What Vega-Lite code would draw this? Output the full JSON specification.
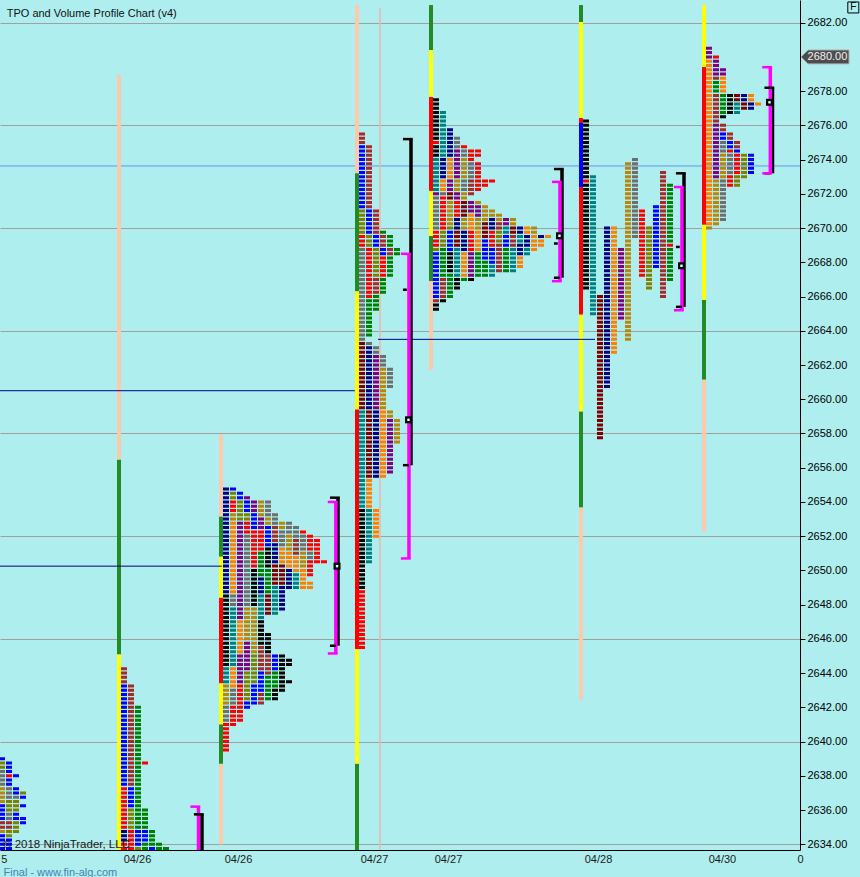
{
"$schema": "https://vega.github.io/schema/vega-lite/v6.json",
"width": 800,
"height": 850,
"autosize": {"type": "none"},
"padding": {"left": 0, "top": 0, "right": 60, "bottom": 27},
"background": "#AFEEEE",
"config": {"view": {"stroke": null}, "font": "Liberation Sans", "legend": {"disable": true}},
"datasets": {
"sessions": [
{"p":"a","s":0.286},{"p":"b","s":17.714},{"p":"c","s":32.286},{"p":"d","s":51.714},{"p":"e","s":62.286},{"p":"f","s":83.714},{"p":"g","s":101.286}
],
"cells": [
{"p":"a","c":0,"lo":2639,"hi":2639,"k":"B"},{"p":"a","c":0,"lo":2638.5,"hi":2638.75,"k":"O"},{"p":"a","c":0,"lo":2637.5,"hi":2638.25,"k":"Y"},{"p":"a","c":0,"lo":2636.5,"hi":2637.25,"k":"D"},{"p":"a","c":0,"lo":2635.5,"hi":2636.25,"k":"B"},{"p":"a","c":0,"lo":2635,"hi":2635.25,"k":"W"},{"p":"a","c":0,"lo":2634.75,"hi":2634.75,"k":"D"},{"p":"a","c":0,"lo":2633.5,"hi":2634.5,"k":"B"},
{"p":"a","c":1,"lo":2638.25,"hi":2638.75,"k":"B"},{"p":"a","c":1,"lo":2638,"hi":2638,"k":"R"},{"p":"a","c":1,"lo":2637.5,"hi":2637.75,"k":"B"},{"p":"a","c":1,"lo":2636.75,"hi":2637.25,"k":"Y"},{"p":"a","c":1,"lo":2636,"hi":2636.5,"k":"O"},{"p":"a","c":1,"lo":2635.5,"hi":2635.75,"k":"Y"},{"p":"a","c":1,"lo":2635,"hi":2635.25,"k":"W"},{"p":"a","c":1,"lo":2634.5,"hi":2634.75,"k":"O"},{"p":"a","c":1,"lo":2633.5,"hi":2634.25,"k":"B"},
{"p":"a","c":2,"lo":2638,"hi":2638,"k":"B"},{"p":"a","c":2,"lo":2637,"hi":2637.25,"k":"B"},{"p":"a","c":2,"lo":2636.75,"hi":2636.75,"k":"Y"},{"p":"a","c":2,"lo":2636,"hi":2636.5,"k":"O"},{"p":"a","c":2,"lo":2635.5,"hi":2635.75,"k":"B"},{"p":"a","c":2,"lo":2634.75,"hi":2635.25,"k":"O"},
{"p":"a","c":3,"lo":2637,"hi":2637,"k":"O"},{"p":"a","c":3,"lo":2636.75,"hi":2636.75,"k":"B"},{"p":"a","c":3,"lo":2636.25,"hi":2636.25,"k":"B"},{"p":"a","c":3,"lo":2635.25,"hi":2635.5,"k":"B"},

{"p":"b","c":0,"lo":2643.5,"hi":2644.25,"k":"W"},{"p":"b","c":0,"lo":2637.5,"hi":2643.25,"k":"B"},{"p":"b","c":0,"lo":2635,"hi":2637.25,"k":"R"},{"p":"b","c":0,"lo":2634.25,"hi":2634.75,"k":"N"},{"p":"b","c":0,"lo":2633.5,"hi":2634,"k":"R"},
{"p":"b","c":1,"lo":2637.5,"hi":2643.25,"k":"W"},{"p":"b","c":1,"lo":2636.25,"hi":2637.25,"k":"B"},{"p":"b","c":1,"lo":2635,"hi":2636,"k":"O"},{"p":"b","c":1,"lo":2633.5,"hi":2634.75,"k":"R"},
{"p":"b","c":2,"lo":2635,"hi":2642,"k":"G"},{"p":"b","c":2,"lo":2634,"hi":2634.75,"k":"B"},{"p":"b","c":2,"lo":2633.5,"hi":2633.75,"k":"O"},
{"p":"b","c":3,"lo":2638.75,"hi":2638.75,"k":"R"},{"p":"b","c":3,"lo":2635,"hi":2636,"k":"G"},{"p":"b","c":3,"lo":2634.25,"hi":2634.75,"k":"B"},{"p":"b","c":3,"lo":2633.5,"hi":2634,"k":"G"},
{"p":"b","c":4,"lo":2634,"hi":2634.75,"k":"G"},{"p":"b","c":4,"lo":2633.5,"hi":2633.75,"k":"B"},
{"p":"b","c":5,"lo":2633.5,"hi":2634,"k":"G"},{"p":"b","c":6,"lo":2633.5,"hi":2633.75,"k":"G"},

{"p":"c","c":0,"lo":2648.75,"hi":2654.75,"k":"N"},{"p":"c","c":0,"lo":2644.5,"hi":2648.5,"k":"K"},{"p":"c","c":0,"lo":2643.5,"hi":2644.25,"k":"T"},{"p":"c","c":0,"lo":2642.25,"hi":2643.25,"k":"D"},{"p":"c","c":0,"lo":2641.25,"hi":2642,"k":"Y"},{"p":"c","c":0,"lo":2639.5,"hi":2641,"k":"R"},
{"p":"c","c":1,"lo":2654.75,"hi":2654.75,"k":"B"},{"p":"c","c":1,"lo":2654.25,"hi":2654.5,"k":"O"},{"p":"c","c":1,"lo":2653.5,"hi":2654,"k":"R"},{"p":"c","c":1,"lo":2653,"hi":2653.25,"k":"D"},{"p":"c","c":1,"lo":2648.75,"hi":2652.75,"k":"A"},{"p":"c","c":1,"lo":2648,"hi":2648.5,"k":"Y"},{"p":"c","c":1,"lo":2644.5,"hi":2647.75,"k":"T"},{"p":"c","c":1,"lo":2643.25,"hi":2644.25,"k":"A"},{"p":"c","c":1,"lo":2642.25,"hi":2643,"k":"Y"},{"p":"c","c":1,"lo":2641,"hi":2642,"k":"R"},
{"p":"c","c":2,"lo":2654.25,"hi":2654.5,"k":"B"},{"p":"c","c":2,"lo":2653,"hi":2654,"k":"O"},{"p":"c","c":2,"lo":2647.25,"hi":2652.75,"k":"P"},{"p":"c","c":2,"lo":2645.25,"hi":2647,"k":"A"},{"p":"c","c":2,"lo":2643.5,"hi":2645,"k":"P"},{"p":"c","c":2,"lo":2641.25,"hi":2643.25,"k":"R"},
{"p":"c","c":3,"lo":2654.25,"hi":2654.25,"k":"P"},{"p":"c","c":3,"lo":2653.5,"hi":2654,"k":"B"},{"p":"c","c":3,"lo":2653,"hi":2653.25,"k":"O"},{"p":"c","c":3,"lo":2652.25,"hi":2652.75,"k":"R"},{"p":"c","c":3,"lo":2648,"hi":2652,"k":"Y"},{"p":"c","c":3,"lo":2646,"hi":2647.75,"k":"D"},{"p":"c","c":3,"lo":2644.25,"hi":2645.75,"k":"P"},{"p":"c","c":3,"lo":2642.5,"hi":2644,"k":"O"},{"p":"c","c":3,"lo":2642,"hi":2642.25,"k":"B"},
{"p":"c","c":4,"lo":2653.5,"hi":2654,"k":"P"},{"p":"c","c":4,"lo":2652.5,"hi":2653.25,"k":"B"},{"p":"c","c":4,"lo":2650.25,"hi":2652.25,"k":"R"},{"p":"c","c":4,"lo":2648,"hi":2650,"k":"K"},{"p":"c","c":4,"lo":2645.25,"hi":2647.75,"k":"D"},{"p":"c","c":4,"lo":2643.5,"hi":2645,"k":"O"},{"p":"c","c":4,"lo":2642.25,"hi":2643.25,"k":"B"},
{"p":"c","c":5,"lo":2653.25,"hi":2654,"k":"D"},{"p":"c","c":5,"lo":2652.5,"hi":2653,"k":"P"},{"p":"c","c":5,"lo":2651.25,"hi":2652.25,"k":"R"},{"p":"c","c":5,"lo":2649.75,"hi":2651,"k":"G"},{"p":"c","c":5,"lo":2648.75,"hi":2649.5,"k":"N"},{"p":"c","c":5,"lo":2647.25,"hi":2648.5,"k":"T"},{"p":"c","c":5,"lo":2645.75,"hi":2647,"k":"K"},{"p":"c","c":5,"lo":2644.25,"hi":2645.5,"k":"W"},{"p":"c","c":5,"lo":2643,"hi":2644,"k":"B"},{"p":"c","c":5,"lo":2642.25,"hi":2642.75,"k":"W"},
{"p":"c","c":6,"lo":2653.25,"hi":2654,"k":"Y"},{"p":"c","c":6,"lo":2652.75,"hi":2653,"k":"D"},{"p":"c","c":6,"lo":2651.5,"hi":2652.5,"k":"B"},{"p":"c","c":6,"lo":2650.25,"hi":2651.25,"k":"K"},{"p":"c","c":6,"lo":2648.75,"hi":2650,"k":"G"},{"p":"c","c":6,"lo":2647.5,"hi":2648.5,"k":"M"},{"p":"c","c":6,"lo":2645.25,"hi":2646.25,"k":"K"},{"p":"c","c":6,"lo":2644,"hi":2645,"k":"W"},{"p":"c","c":6,"lo":2642.5,"hi":2643.75,"k":"G"},
{"p":"c","c":7,"lo":2652.75,"hi":2653.25,"k":"Y"},{"p":"c","c":7,"lo":2651.75,"hi":2652.5,"k":"W"},{"p":"c","c":7,"lo":2650.5,"hi":2651.5,"k":"N"},{"p":"c","c":7,"lo":2649.25,"hi":2650.25,"k":"M"},{"p":"c","c":7,"lo":2647.5,"hi":2649,"k":"T"},{"p":"c","c":7,"lo":2644.25,"hi":2645,"k":"B"},{"p":"c","c":7,"lo":2643.25,"hi":2644,"k":"G"},{"p":"c","c":7,"lo":2642.5,"hi":2643,"k":"K"},
{"p":"c","c":8,"lo":2652.5,"hi":2652.75,"k":"D"},{"p":"c","c":8,"lo":2651.5,"hi":2652.25,"k":"Y"},{"p":"c","c":8,"lo":2650.5,"hi":2651.25,"k":"A"},{"p":"c","c":8,"lo":2649.25,"hi":2650.25,"k":"M"},{"p":"c","c":8,"lo":2647.75,"hi":2649,"k":"N"},{"p":"c","c":8,"lo":2643,"hi":2645,"k":"K"},
{"p":"c","c":9,"lo":2652.25,"hi":2652.75,"k":"Y"},{"p":"c","c":9,"lo":2651.25,"hi":2652,"k":"D"},{"p":"c","c":9,"lo":2650.25,"hi":2651,"k":"A"},{"p":"c","c":9,"lo":2649,"hi":2650,"k":"N"},{"p":"c","c":9,"lo":2644.5,"hi":2644.75,"k":"K"},{"p":"c","c":9,"lo":2643.5,"hi":2643.5,"k":"K"},
{"p":"c","c":10,"lo":2652,"hi":2652.5,"k":"Y"},{"p":"c","c":10,"lo":2651,"hi":2651.75,"k":"W"},{"p":"c","c":10,"lo":2650,"hi":2650.75,"k":"A"},{"p":"c","c":10,"lo":2649,"hi":2649.75,"k":"T"},
{"p":"c","c":11,"lo":2652.25,"hi":2652.25,"k":"R"},{"p":"c","c":11,"lo":2651.25,"hi":2652,"k":"Y"},{"p":"c","c":11,"lo":2650.25,"hi":2651,"k":"D"},{"p":"c","c":11,"lo":2649,"hi":2650,"k":"A"},
{"p":"c","c":12,"lo":2651.25,"hi":2652,"k":"R"},{"p":"c","c":12,"lo":2650.75,"hi":2651,"k":"Y"},{"p":"c","c":12,"lo":2649.75,"hi":2650.5,"k":"R"},{"p":"c","c":12,"lo":2649,"hi":2649.25,"k":"A"},
{"p":"c","c":13,"lo":2650.5,"hi":2651.75,"k":"R"},{"p":"c","c":14,"lo":2650.5,"hi":2650.5,"k":"R"},

{"p":"d","c":0,"lo":2675,"hi":2675.5,"k":"W"},{"p":"d","c":0,"lo":2671.25,"hi":2674.75,"k":"B"},{"p":"d","c":0,"lo":2669.75,"hi":2671,"k":"O"},{"p":"d","c":0,"lo":2669,"hi":2669.5,"k":"R"},{"p":"d","c":0,"lo":2663.5,"hi":2668.75,"k":"Y"},{"p":"d","c":0,"lo":2659.5,"hi":2663.25,"k":"M"},{"p":"d","c":0,"lo":2653.75,"hi":2659.25,"k":"T"},{"p":"d","c":0,"lo":2649,"hi":2653.5,"k":"K"},{"p":"d","c":0,"lo":2645.5,"hi":2648.75,"k":"R"},
{"p":"d","c":1,"lo":2671.25,"hi":2674.75,"k":"W"},{"p":"d","c":1,"lo":2669.75,"hi":2671,"k":"B"},{"p":"d","c":1,"lo":2669,"hi":2669.5,"k":"O"},{"p":"d","c":1,"lo":2666,"hi":2668.75,"k":"R"},{"p":"d","c":1,"lo":2663.75,"hi":2665.75,"k":"G"},{"p":"d","c":1,"lo":2663.25,"hi":2663.25,"k":"Y"},{"p":"d","c":1,"lo":2659.5,"hi":2663,"k":"N"},{"p":"d","c":1,"lo":2655.5,"hi":2659.25,"k":"M"},{"p":"d","c":1,"lo":2653.75,"hi":2655.25,"k":"A"},{"p":"d","c":1,"lo":2650.5,"hi":2653.5,"k":"T"},
{"p":"d","c":2,"lo":2669.75,"hi":2671,"k":"W"},{"p":"d","c":2,"lo":2669,"hi":2669.5,"k":"B"},{"p":"d","c":2,"lo":2667.25,"hi":2668.75,"k":"O"},{"p":"d","c":2,"lo":2666.25,"hi":2667,"k":"W"},{"p":"d","c":2,"lo":2665.25,"hi":2666,"k":"G"},{"p":"d","c":2,"lo":2662.75,"hi":2663,"k":"Y"},{"p":"d","c":2,"lo":2659.5,"hi":2662.5,"k":"P"},{"p":"d","c":2,"lo":2655.5,"hi":2659.25,"k":"N"},{"p":"d","c":2,"lo":2652,"hi":2653.5,"k":"A"},
{"p":"d","c":3,"lo":2669.75,"hi":2669.75,"k":"G"},{"p":"d","c":3,"lo":2669,"hi":2669.5,"k":"W"},{"p":"d","c":3,"lo":2668.5,"hi":2668.75,"k":"B"},{"p":"d","c":3,"lo":2667.25,"hi":2668.25,"k":"R"},{"p":"d","c":3,"lo":2666.25,"hi":2667,"k":"G"},{"p":"d","c":3,"lo":2662,"hi":2662.5,"k":"Y"},{"p":"d","c":3,"lo":2659.5,"hi":2661.75,"k":"D"},{"p":"d","c":3,"lo":2655.5,"hi":2659.25,"k":"A"},
{"p":"d","c":4,"lo":2669,"hi":2669.5,"k":"G"},{"p":"d","c":4,"lo":2668.5,"hi":2668.75,"k":"W"},{"p":"d","c":4,"lo":2667.25,"hi":2668.25,"k":"G"},{"p":"d","c":4,"lo":2660.75,"hi":2661.75,"k":"Y"},{"p":"d","c":4,"lo":2659,"hi":2659.25,"k":"D"},{"p":"d","c":4,"lo":2655.75,"hi":2658.75,"k":"P"},
{"p":"d","c":5,"lo":2668.5,"hi":2668.75,"k":"G"},{"p":"d","c":5,"lo":2657.5,"hi":2658.75,"k":"D"},

{"p":"e","c":0,"lo":2675.25,"hi":2677.5,"k":"K"},{"p":"e","c":0,"lo":2675,"hi":2675,"k":"R"},{"p":"e","c":0,"lo":2674.25,"hi":2674.75,"k":"K"},{"p":"e","c":0,"lo":2672.25,"hi":2674,"k":"T"},{"p":"e","c":0,"lo":2672,"hi":2672,"k":"P"},{"p":"e","c":0,"lo":2670,"hi":2671.75,"k":"Y"},{"p":"e","c":0,"lo":2669,"hi":2669.75,"k":"R"},{"p":"e","c":0,"lo":2668.75,"hi":2668.75,"k":"O"},{"p":"e","c":0,"lo":2666,"hi":2668.5,"k":"B"},{"p":"e","c":0,"lo":2665.75,"hi":2665.75,"k":"W"},{"p":"e","c":0,"lo":2665.25,"hi":2665.5,"k":"K"},
{"p":"e","c":1,"lo":2674.25,"hi":2676.75,"k":"T"},{"p":"e","c":1,"lo":2673,"hi":2674,"k":"N"},{"p":"e","c":1,"lo":2672.25,"hi":2672.75,"k":"A"},{"p":"e","c":1,"lo":2672,"hi":2672,"k":"Y"},{"p":"e","c":1,"lo":2670,"hi":2671.75,"k":"R"},{"p":"e","c":1,"lo":2669,"hi":2669.75,"k":"O"},{"p":"e","c":1,"lo":2667.25,"hi":2668.75,"k":"G"},{"p":"e","c":1,"lo":2666,"hi":2667,"k":"W"},{"p":"e","c":1,"lo":2665.75,"hi":2665.75,"k":"K"},
{"p":"e","c":2,"lo":2674.25,"hi":2675.75,"k":"N"},{"p":"e","c":2,"lo":2673,"hi":2674,"k":"A"},{"p":"e","c":2,"lo":2672.25,"hi":2672.75,"k":"P"},{"p":"e","c":2,"lo":2671.75,"hi":2672,"k":"M"},{"p":"e","c":2,"lo":2670.25,"hi":2671.5,"k":"D"},{"p":"e","c":2,"lo":2670,"hi":2670,"k":"O"},{"p":"e","c":2,"lo":2668.75,"hi":2669.75,"k":"B"},{"p":"e","c":2,"lo":2667.5,"hi":2668.5,"k":"K"},{"p":"e","c":2,"lo":2666,"hi":2667.25,"k":"G"},
{"p":"e","c":3,"lo":2674.75,"hi":2675.25,"k":"Y"},{"p":"e","c":3,"lo":2673,"hi":2674.5,"k":"P"},{"p":"e","c":3,"lo":2672.25,"hi":2672.75,"k":"D"},{"p":"e","c":3,"lo":2671.75,"hi":2672,"k":"P"},{"p":"e","c":3,"lo":2670.75,"hi":2671.5,"k":"R"},{"p":"e","c":3,"lo":2670,"hi":2670.5,"k":"N"},{"p":"e","c":3,"lo":2669,"hi":2669.75,"k":"M"},{"p":"e","c":3,"lo":2667.25,"hi":2668.75,"k":"T"},{"p":"e","c":3,"lo":2666.5,"hi":2667,"k":"K"},
{"p":"e","c":4,"lo":2674.75,"hi":2674.75,"k":"R"},{"p":"e","c":4,"lo":2674.25,"hi":2674.5,"k":"Y"},{"p":"e","c":4,"lo":2673,"hi":2674,"k":"D"},{"p":"e","c":4,"lo":2672.25,"hi":2672.75,"k":"Y"},{"p":"e","c":4,"lo":2671.75,"hi":2672,"k":"D"},{"p":"e","c":4,"lo":2670.75,"hi":2671.5,"k":"M"},{"p":"e","c":4,"lo":2670,"hi":2670.5,"k":"D"},{"p":"e","c":4,"lo":2668.75,"hi":2669.75,"k":"N"},{"p":"e","c":4,"lo":2667.25,"hi":2668.5,"k":"A"},{"p":"e","c":4,"lo":2667,"hi":2667,"k":"G"},
{"p":"e","c":5,"lo":2674,"hi":2674.5,"k":"R"},{"p":"e","c":5,"lo":2673,"hi":2673.75,"k":"Y"},{"p":"e","c":5,"lo":2672,"hi":2672.75,"k":"W"},{"p":"e","c":5,"lo":2671,"hi":2671.5,"k":"P"},{"p":"e","c":5,"lo":2670,"hi":2670.75,"k":"A"},{"p":"e","c":5,"lo":2668.75,"hi":2669.75,"k":"R"},{"p":"e","c":5,"lo":2667.25,"hi":2668.5,"k":"P"},{"p":"e","c":5,"lo":2667,"hi":2667,"k":"K"},
{"p":"e","c":6,"lo":2674.25,"hi":2674.5,"k":"R"},{"p":"e","c":6,"lo":2672.25,"hi":2673.75,"k":"R"},{"p":"e","c":6,"lo":2671.5,"hi":2671.5,"k":"D"},{"p":"e","c":6,"lo":2670.75,"hi":2671.25,"k":"P"},{"p":"e","c":6,"lo":2670,"hi":2670.5,"k":"D"},{"p":"e","c":6,"lo":2668.75,"hi":2669.75,"k":"A"},{"p":"e","c":6,"lo":2667.25,"hi":2668.5,"k":"G"},
{"p":"e","c":7,"lo":2672.5,"hi":2672.75,"k":"R"},{"p":"e","c":7,"lo":2670.5,"hi":2671.25,"k":"D"},{"p":"e","c":7,"lo":2669.5,"hi":2670.25,"k":"M"},{"p":"e","c":7,"lo":2668.25,"hi":2669.25,"k":"B"},{"p":"e","c":7,"lo":2667.25,"hi":2668,"k":"G"},
{"p":"e","c":8,"lo":2672.75,"hi":2672.75,"k":"R"},{"p":"e","c":8,"lo":2670.75,"hi":2671,"k":"D"},{"p":"e","c":8,"lo":2670,"hi":2670.5,"k":"N"},{"p":"e","c":8,"lo":2669,"hi":2669.75,"k":"R"},{"p":"e","c":8,"lo":2668,"hi":2668.75,"k":"B"},{"p":"e","c":8,"lo":2667.25,"hi":2667.75,"k":"T"},
{"p":"e","c":9,"lo":2670.5,"hi":2670.75,"k":"D"},{"p":"e","c":9,"lo":2670,"hi":2670.25,"k":"W"},{"p":"e","c":9,"lo":2669.25,"hi":2669.75,"k":"O"},{"p":"e","c":9,"lo":2667.5,"hi":2669,"k":"W"},
{"p":"e","c":10,"lo":2670.25,"hi":2670.5,"k":"P"},{"p":"e","c":10,"lo":2669.75,"hi":2670,"k":"T"},{"p":"e","c":10,"lo":2669,"hi":2669.5,"k":"B"},{"p":"e","c":10,"lo":2667.5,"hi":2668.75,"k":"G"},
{"p":"e","c":11,"lo":2670.25,"hi":2670.5,"k":"D"},{"p":"e","c":11,"lo":2669.75,"hi":2670,"k":"M"},{"p":"e","c":11,"lo":2669,"hi":2669.5,"k":"W"},{"p":"e","c":11,"lo":2667.5,"hi":2668.75,"k":"T"},
{"p":"e","c":12,"lo":2669.75,"hi":2670,"k":"N"},{"p":"e","c":12,"lo":2669.25,"hi":2669.5,"k":"T"},{"p":"e","c":12,"lo":2668.5,"hi":2669,"k":"N"},{"p":"e","c":12,"lo":2667.75,"hi":2668.25,"k":"A"},
{"p":"e","c":13,"lo":2669.75,"hi":2670,"k":"A"},{"p":"e","c":13,"lo":2669,"hi":2669.5,"k":"N"},{"p":"e","c":13,"lo":2668.5,"hi":2668.75,"k":"T"},
{"p":"e","c":14,"lo":2669.75,"hi":2670,"k":"D"},{"p":"e","c":14,"lo":2668.75,"hi":2669.5,"k":"A"},
{"p":"e","c":15,"lo":2669.5,"hi":2669.5,"k":"N"},{"p":"e","c":15,"lo":2669,"hi":2669.25,"k":"A"},
{"p":"e","c":16,"lo":2669.5,"hi":2669.5,"k":"A"},

{"p":"f","c":0,"lo":2673,"hi":2676.25,"k":"K"},{"p":"f","c":0,"lo":2672.75,"hi":2672.75,"k":"R"},{"p":"f","c":0,"lo":2666.5,"hi":2672.5,"k":"K"},
{"p":"f","c":1,"lo":2665,"hi":2673,"k":"T"},
{"p":"f","c":2,"lo":2657.75,"hi":2666,"k":"M"},
{"p":"f","c":3,"lo":2660.75,"hi":2670,"k":"N"},
{"p":"f","c":4,"lo":2662.75,"hi":2670,"k":"A"},
{"p":"f","c":5,"lo":2664.75,"hi":2668.75,"k":"P"},
{"p":"f","c":6,"lo":2663.5,"hi":2673.75,"k":"D"},
{"p":"f","c":7,"lo":2669.5,"hi":2674,"k":"Y"},
{"p":"f","c":8,"lo":2667.25,"hi":2671,"k":"R"},
{"p":"f","c":9,"lo":2666.5,"hi":2670,"k":"O"},
{"p":"f","c":10,"lo":2667.75,"hi":2671.25,"k":"B"},
{"p":"f","c":11,"lo":2666,"hi":2673.25,"k":"W"},
{"p":"f","c":12,"lo":2669.25,"hi":2672.5,"k":"G"},{"p":"f","c":12,"lo":2669,"hi":2669,"k":"R"},{"p":"f","c":12,"lo":2667,"hi":2668.75,"k":"G"},

{"p":"g","c":0,"lo":2680,"hi":2680.5,"k":"P"},{"p":"g","c":0,"lo":2670.25,"hi":2679.75,"k":"A"},{"p":"g","c":0,"lo":2670,"hi":2670,"k":"D"},
{"p":"g","c":1,"lo":2680,"hi":2680,"k":"R"},{"p":"g","c":1,"lo":2679,"hi":2679.75,"k":"P"},{"p":"g","c":1,"lo":2678.75,"hi":2678.75,"k":"W"},{"p":"g","c":1,"lo":2678,"hi":2678.5,"k":"G"},{"p":"g","c":1,"lo":2676.25,"hi":2677.75,"k":"W"},{"p":"g","c":1,"lo":2673,"hi":2676,"k":"P"},{"p":"g","c":1,"lo":2670.25,"hi":2672.75,"k":"D"},
{"p":"g","c":2,"lo":2679,"hi":2679.25,"k":"P"},{"p":"g","c":2,"lo":2678,"hi":2678.75,"k":"A"},{"p":"g","c":2,"lo":2676.75,"hi":2677.75,"k":"G"},{"p":"g","c":2,"lo":2676.5,"hi":2676.5,"k":"K"},{"p":"g","c":2,"lo":2675.75,"hi":2676,"k":"W"},{"p":"g","c":2,"lo":2675.25,"hi":2675.5,"k":"B"},{"p":"g","c":2,"lo":2674.5,"hi":2675,"k":"Y"},{"p":"g","c":2,"lo":2673,"hi":2674.25,"k":"D"},{"p":"g","c":2,"lo":2670.5,"hi":2672.75,"k":"Y"},
{"p":"g","c":3,"lo":2676.75,"hi":2677.75,"k":"K"},{"p":"g","c":3,"lo":2675.25,"hi":2675.5,"k":"W"},{"p":"g","c":3,"lo":2674.75,"hi":2675,"k":"B"},{"p":"g","c":3,"lo":2674.5,"hi":2674.5,"k":"R"},{"p":"g","c":3,"lo":2673.25,"hi":2674.25,"k":"Y"},{"p":"g","c":3,"lo":2672.5,"hi":2673,"k":"R"},
{"p":"g","c":4,"lo":2677.5,"hi":2677.75,"k":"M"},{"p":"g","c":4,"lo":2676.75,"hi":2677.25,"k":"T"},{"p":"g","c":4,"lo":2674.75,"hi":2675,"k":"W"},{"p":"g","c":4,"lo":2674.5,"hi":2674.5,"k":"B"},{"p":"g","c":4,"lo":2673.25,"hi":2674.25,"k":"R"},{"p":"g","c":4,"lo":2672.5,"hi":2673,"k":"O"},
{"p":"g","c":5,"lo":2677.5,"hi":2677.75,"k":"N"},{"p":"g","c":5,"lo":2677,"hi":2677.25,"k":"M"},{"p":"g","c":5,"lo":2673,"hi":2674.25,"k":"O"},
{"p":"g","c":6,"lo":2677.5,"hi":2677.75,"k":"A"},{"p":"g","c":6,"lo":2677,"hi":2677.25,"k":"N"},{"p":"g","c":6,"lo":2673.25,"hi":2674.25,"k":"B"},
{"p":"g","c":7,"lo":2677.25,"hi":2677.25,"k":"A"}
],
"bars": [
{"p":"b","lo":2656.47,"hi":2678.95,"k":"S"},{"p":"b","lo":2645.09,"hi":2656.47,"k":"F"},{"p":"b","lo":2633.4,"hi":2645.09,"k":"L"},
{"p":"c","lo":2653.14,"hi":2657.93,"k":"S"},{"p":"c","lo":2650.8,"hi":2653.14,"k":"F"},{"p":"c","lo":2648.4,"hi":2650.8,"k":"L"},{"p":"c","lo":2643.4,"hi":2648.4,"k":"R"},{"p":"c","lo":2641.0,"hi":2643.4,"k":"L"},{"p":"c","lo":2638.7,"hi":2641.0,"k":"F"},{"p":"c","lo":2634.0,"hi":2638.7,"k":"S"},
{"p":"d","lo":2673.2,"hi":2683.03,"k":"S"},{"p":"d","lo":2666.3,"hi":2673.2,"k":"F"},{"p":"d","lo":2659.4,"hi":2666.3,"k":"L"},{"p":"d","lo":2645.4,"hi":2659.4,"k":"R"},{"p":"d","lo":2638.7,"hi":2645.4,"k":"L"},{"p":"d","lo":2633.4,"hi":2638.7,"k":"F"},
{"p":"e","lo":2680.4,"hi":2683.03,"k":"F"},{"p":"e","lo":2677.66,"hi":2680.4,"k":"L"},{"p":"e","lo":2672.17,"hi":2677.66,"k":"R"},{"p":"e","lo":2669.54,"hi":2672.17,"k":"L"},{"p":"e","lo":2666.9,"hi":2669.54,"k":"F"},{"p":"e","lo":2661.7,"hi":2666.9,"k":"S"},
{"p":"f","lo":2682.04,"hi":2683.03,"k":"F"},{"p":"f","lo":2676.43,"hi":2682.04,"k":"L"},{"p":"f","lo":2676.14,"hi":2676.43,"k":"R"},{"p":"f","lo":2672.4,"hi":2676.14,"k":"B"},{"p":"f","lo":2664.94,"hi":2672.4,"k":"R"},{"p":"f","lo":2659.28,"hi":2664.94,"k":"L"},{"p":"f","lo":2653.67,"hi":2659.28,"k":"F"},{"p":"f","lo":2642.46,"hi":2653.67,"k":"S"},
{"p":"g","lo":2679.41,"hi":2683.03,"k":"L"},{"p":"g","lo":2670.19,"hi":2679.41,"k":"R"},{"p":"g","lo":2665.8,"hi":2670.19,"k":"L"},{"p":"g","lo":2661.14,"hi":2665.8,"k":"F"},{"p":"g","lo":2652.27,"hi":2661.14,"k":"S"}
],
"brackets": [
{"p":"b","k":"K","c":11.14,"top":2635.75,"bot":2633.3},
{"p":"c","k":"K","c":16.0,"top":2654.25,"bot":2645.6},
{"p":"d","k":"K","c":7.0,"top":2675.2,"bot":2656.15},
{"p":"e","k":"K","c":18.0,"top":2673.45,"bot":2667.1},
{"p":"f","k":"K","c":14.0,"top":2673.2,"bot":2665.4},
{"p":"g","k":"K","c":9.07,"top":2678.2,"bot":2673.2},
{"p":"b","k":"V","c":10.64,"top":2636.2,"bot":2633.3},
{"p":"c","k":"V","c":15.69,"top":2654.0,"bot":2645.15},
{"p":"d","k":"V","c":6.71,"top":2668.5,"bot":2650.7},
{"p":"e","k":"V","c":17.71,"top":2672.7,"bot":2666.9},
{"p":"f","k":"V","c":13.71,"top":2672.4,"bot":2665.2},
{"p":"g","k":"V","c":8.76,"top":2679.4,"bot":2673.2}
],
"ticks": [
{"p":"d","c":7.0,"price":2666.4},{"p":"e","c":18.0,"price":2669.1},{"p":"f","c":14.0,"price":2668.9}
],
"poc": [
{"p":"c","c":15.86,"price":2650.25},{"p":"d","c":6.64,"price":2658.8},{"p":"e","c":17.64,"price":2669.55},{"p":"f","c":13.64,"price":2667.8},{"p":"g","c":8.64,"price":2677.35}
],
"npoc": [
{"price":2660.5,"x1":0,"x2":50.7},{"price":2650.25,"x1":0,"x2":31.7},{"price":2663.5,"x1":54.0,"x2":85.0}
],
"thin": [
{"p":"d","c":2.57,"lo":2633.3,"hi":2682.85}
]
},
"layer": [
{
"data": {"name": "cells"},
"transform": [
{"lookup": "p", "from": {"data": {"name": "sessions"}, "key": "p", "fields": ["s"]}},
{"calculate": "datum.s + datum.c", "as": "x"},
{"calculate": "datum.hi + 0.09", "as": "top"},
{"calculate": "datum.lo - 0.16", "as": "bot"}
],
"mark": {"type": "rule", "strokeWidth": 0, "opacity": 0},
"encoding": {
"x": {
"field": "x", "type": "quantitative",
"scale": {"domain": [0, 114.2857], "nice": false, "zero": false},
"axis": {
"values": [0.55, 19.57, 34.0, 53.43, 64.0, 85.43, 103.14, 114.28],
"tickCount": 40,
"labelExpr": "datum.value < 5 ? '5' : datum.value < 45 ? '04/26' : datum.value < 75 ? '04/27' : datum.value < 95 ? '04/28' : datum.value < 110 ? '04/30' : '0'",
"ticks": false, "grid": false, "domainColor": "#000000", "domainWidth": 1,
"labelFont": "Liberation Sans", "labelFontSize": 11, "labelColor": "#1a1a1a", "labelPadding": 3,
"labelFlush": false, "labelOverlap": false,
"title": "Final - www.fin-alg.com", "titleX": 3, "titleY": 25, "titleAlign": "left", "titleBaseline": "alphabetic",
"titleColor": "#4682B4", "titleFont": "Liberation Sans", "titleFontSize": 11, "titleFontWeight": "normal"
}
},
"y": {
"field": "top", "type": "quantitative",
"scale": {"domain": [2633.667, 2683.326], "nice": false, "zero": false},
"axis": {
"orient": "right",
"values": [2634, 2636, 2638, 2640, 2642, 2644, 2646, 2648, 2650, 2652, 2654, 2656, 2658, 2660, 2662, 2664, 2666, 2668, 2670, 2672, 2674, 2676, 2678, 2682],
"tickCount": 60,
"format": ".2f", "tickSize": 5, "tickColor": "#000000", "domainColor": "#000000", "domainWidth": 1,
"labelFont": "Liberation Sans", "labelFontSize": 11, "labelColor": "#000000", "labelPadding": 2,
"labelFlush": false, "labelOverlap": false, "title": null,
"grid": true, "gridColor": "#A0A0A0", "gridWidth": 1,
"gridOpacity": {"condition": {"test": "datum.value % 6 === 0", "value": 1}, "value": 0}
}
},
"y2": {"field": "bot"},
"color": {
"field": "k", "type": "nominal",
"scale": {
"domain": ["N","B","R","W","O","G","A","P","D","Y","T","K","M","S","F","L","V"],
"range": ["#000080","#0000FF","#FF0000","#A52A2A","#808000","#008000","#FF8000","#800080","#B8860B","#6E6E6E","#008080","#000000","#800000","#FFC8A8","#228B22","#FFFF00","#FF00FF"]
}
}
}
},
{
"data": {"values": [{"v": 2673.63}]},
"mark": {"type": "rule", "color": "#6495ED", "strokeWidth": 1},
"encoding": {"y": {"field": "v", "type": "quantitative"}}
},
{
"data": {"name": "thin"},
"transform": [
{"lookup": "p", "from": {"data": {"name": "sessions"}, "key": "p", "fields": ["s"]}},
{"calculate": "datum.s + datum.c", "as": "x"}
],
"mark": {"type": "rule", "color": "#E8B8A8", "strokeWidth": 1.5, "clip": true},
"encoding": {
"x": {"field": "x", "type": "quantitative"},
"y": {"field": "hi", "type": "quantitative"},
"y2": {"field": "lo"}
}
},
{
"data": {"name": "bars"},
"transform": [
{"lookup": "p", "from": {"data": {"name": "sessions"}, "key": "p", "fields": ["s"]}},
{"calculate": "datum.s - 0.714", "as": "x"}
],
"mark": {"type": "rule", "strokeWidth": 4, "clip": true},
"encoding": {
"x": {"field": "x", "type": "quantitative"},
"y": {"field": "hi", "type": "quantitative"},
"y2": {"field": "lo"},
"color": {"field": "k", "type": "nominal"}
}
},
{
"data": {"name": "npoc"},
"mark": {"type": "rule", "color": "#000080", "strokeWidth": 1, "clip": true},
"encoding": {
"x": {"field": "x1", "type": "quantitative"},
"x2": {"field": "x2"},
"y": {"field": "price", "type": "quantitative"}
}
},
{
"data": {"name": "cells"},
"transform": [
{"lookup": "p", "from": {"data": {"name": "sessions"}, "key": "p", "fields": ["s"]}},
{"calculate": "datum.s + datum.c", "as": "x"},
{"calculate": "datum.hi + 0.09", "as": "top"},
{"calculate": "datum.lo - 0.16", "as": "bot"}
],
"mark": {"type": "rule", "strokeWidth": 6, "strokeDash": [3, 1.279], "strokeCap": "butt", "clip": true},
"encoding": {
"x": {"field": "x", "type": "quantitative"},
"y": {"field": "top", "type": "quantitative"},
"y2": {"field": "bot"},
"color": {"field": "k", "type": "nominal"}
}
},
{
"data": {"name": "brackets"},
"transform": [
{"lookup": "p", "from": {"data": {"name": "sessions"}, "key": "p", "fields": ["s"]}},
{"calculate": "datum.s + datum.c", "as": "x"}
],
"mark": {"type": "rule", "strokeWidth": 3.5, "clip": true},
"encoding": {
"x": {"field": "x", "type": "quantitative"},
"y": {"field": "top", "type": "quantitative"},
"y2": {"field": "bot"},
"color": {"field": "k", "type": "nominal"}
}
},
{
"data": {"name": "brackets"},
"transform": [
{"lookup": "p", "from": {"data": {"name": "sessions"}, "key": "p", "fields": ["s"]}},
{"calculate": "datum.s + datum.c - 1.15", "as": "xa"},
{"calculate": "datum.s + datum.c + 0.25", "as": "xb"}
],
"mark": {"type": "rule", "strokeWidth": 2.5, "clip": true},
"encoding": {
"x": {"field": "xa", "type": "quantitative"},
"x2": {"field": "xb"},
"y": {"field": "top", "type": "quantitative"},
"color": {"field": "k", "type": "nominal"}
}
},
{
"data": {"name": "brackets"},
"transform": [
{"filter": "datum.k === 'K'"},
{"lookup": "p", "from": {"data": {"name": "sessions"}, "key": "p", "fields": ["s"]}},
{"calculate": "datum.s + datum.c - 1.15", "as": "xa"},
{"calculate": "datum.s + datum.c - 0.3", "as": "xb"}
],
"mark": {"type": "rule", "strokeWidth": 2.5, "color": "#000000", "clip": true},
"encoding": {
"x": {"field": "xa", "type": "quantitative"},
"x2": {"field": "xb"},
"y": {"field": "bot", "type": "quantitative"}
}
},
{
"data": {"name": "brackets"},
"transform": [
{"filter": "datum.k === 'V'"},
{"lookup": "p", "from": {"data": {"name": "sessions"}, "key": "p", "fields": ["s"]}},
{"calculate": "datum.s + datum.c - 1.15", "as": "xa"},
{"calculate": "datum.s + datum.c + 0.25", "as": "xb"}
],
"mark": {"type": "rule", "strokeWidth": 2.5, "color": "#FF00FF", "clip": true},
"encoding": {
"x": {"field": "xa", "type": "quantitative"},
"x2": {"field": "xb"},
"y": {"field": "bot", "type": "quantitative"}
}
},
{
"data": {"name": "ticks"},
"transform": [
{"lookup": "p", "from": {"data": {"name": "sessions"}, "key": "p", "fields": ["s"]}},
{"calculate": "datum.s + datum.c - 1.15", "as": "xa"},
{"calculate": "datum.s + datum.c - 0.6", "as": "xb"}
],
"mark": {"type": "rule", "strokeWidth": 2.5, "color": "#000000"},
"encoding": {
"x": {"field": "xa", "type": "quantitative"},
"x2": {"field": "xb"},
"y": {"field": "price", "type": "quantitative"}
}
},
{
"data": {"name": "poc"},
"transform": [
{"lookup": "p", "from": {"data": {"name": "sessions"}, "key": "p", "fields": ["s"]}},
{"calculate": "datum.s + datum.c", "as": "x"}
],
"mark": {"type": "point", "shape": "square", "filled": true, "color": "#000000", "size": 49, "opacity": 1, "strokeWidth": 0},
"encoding": {
"x": {"field": "x", "type": "quantitative"},
"y": {"field": "price", "type": "quantitative"}
}
},
{
"data": {"name": "poc"},
"transform": [
{"lookup": "p", "from": {"data": {"name": "sessions"}, "key": "p", "fields": ["s"]}},
{"calculate": "datum.s + datum.c", "as": "x"}
],
"mark": {"type": "point", "shape": "square", "filled": true, "color": "#E8FFFF", "size": 6, "opacity": 1, "strokeWidth": 0},
"encoding": {
"x": {"field": "x", "type": "quantitative"},
"y": {"field": "price", "type": "quantitative"}
}
},
{
"data": {"values": [{"t": "TPO and Volume Profile Chart (v4)"}]},
"mark": {"type": "text", "align": "left", "baseline": "alphabetic", "fontSize": 11, "font": "Liberation Sans", "color": "#111111"},
"encoding": {
"x": {"datum": 0.96, "type": "quantitative"},
"y": {"datum": 2682.36, "type": "quantitative"},
"text": {"field": "t"}
}
},
{
"data": {"values": [{"t": "© 2018 NinjaTrader, LLC"}]},
"mark": {"type": "text", "align": "left", "baseline": "alphabetic", "fontSize": 11.5, "font": "Liberation Sans", "color": "#1a1a1a"},
"encoding": {
"x": {"datum": 0.43, "type": "quantitative"},
"y": {"datum": 2633.77, "type": "quantitative"},
"text": {"field": "t"}
}
},
{
"data": {"values": [{"v": 2680, "t": "2680.00"}]},
"mark": {"type": "point", "shape": "M-1,0L-0.71,-0.29L1,-0.29L1,0.29L-0.71,0.29Z", "size": 2304, "filled": true, "color": "#4D4D4D", "stroke": "#B0B0B0", "strokeWidth": 1, "opacity": 1},
"encoding": {
"x": {"datum": 117.857, "type": "quantitative"},
"y": {"field": "v", "type": "quantitative"}
}
},
{
"data": {"values": [{"v": 2680, "t": "2680.00"}]},
"mark": {"type": "text", "align": "center", "baseline": "middle", "fontSize": 11, "font": "Liberation Sans", "color": "#F2F2F2"},
"encoding": {
"x": {"datum": 118.2, "type": "quantitative"},
"y": {"field": "v", "type": "quantitative"},
"text": {"field": "t"}
}
},
{
"data": {"values": [{"t": "F"}]},
"mark": {"type": "point", "shape": "square", "size": 121, "filled": false, "color": "#000000", "strokeWidth": 1, "opacity": 1},
"encoding": {
"x": {"datum": 121.9, "type": "quantitative"},
"y": {"datum": 2682.89, "type": "quantitative"}
}
},
{
"data": {"values": [{"t": "F"}]},
"mark": {"type": "text", "align": "center", "baseline": "middle", "fontSize": 10, "font": "Liberation Sans", "color": "#000000"},
"encoding": {
"x": {"datum": 121.9, "type": "quantitative"},
"y": {"datum": 2682.89, "type": "quantitative"},
"text": {"field": "t"}
}
}
]
}
